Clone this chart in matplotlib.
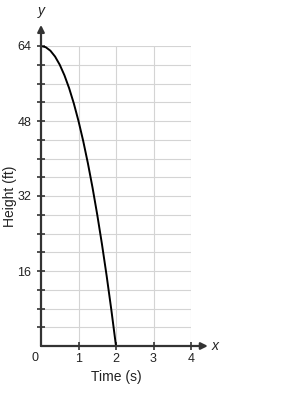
import matplotlib
matplotlib.use("Agg")
import matplotlib.pyplot as plt

plt.rcParams["font.family"] = ["Liberation Sans", "DejaVu Sans"]

# time (s) and height (ft)
time_s = [0, 0.125, 0.25, 0.375, 0.5, 0.625, 0.75, 0.875, 1.0,
          1.125, 1.25, 1.375, 1.5, 1.625, 1.75, 1.875, 2.0]
height_ft = [64, 63.75, 63, 61.75, 60, 57.75, 55, 51.75, 48,
             43.75, 39, 33.75, 28, 21.75, 15, 7.75, 0]

x_ticks = [1, 2, 3, 4]
y_ticks = [16, 32, 48, 64]
y_minor = [4, 8, 12, 20, 24, 28, 36, 40, 44, 52, 56, 60]

W, H = 306, 400
fig = plt.figure(figsize=(W / 100, H / 100), dpi=100)
ax = fig.add_axes([41 / W, (H - 346) / H, 150 / W, 300 / H])

ax.set_xlim(0, 4)
ax.set_ylim(0, 64)

# grid
for y in y_ticks + y_minor:
    ax.axhline(y, color="#d4d4d4", lw=0.8, zorder=0)
for x in x_ticks:
    ax.axvline(x, color="#d4d4d4", lw=0.8, zorder=0)

ax.plot(time_s, height_ft, color="black", lw=1.4, zorder=3)

for s in ["top", "right", "left", "bottom"]:
    ax.spines[s].set_visible(False)

# axes with arrows
ax.annotate("", xy=(4.45, 0), xytext=(0, 0),
            arrowprops=dict(arrowstyle="-|>", color="#333333", lw=1.6,
                            mutation_scale=10, shrinkA=0, shrinkB=0),
            annotation_clip=False, zorder=4)
ax.annotate("", xy=(0, 68.5), xytext=(0, 0),
            arrowprops=dict(arrowstyle="-|>", color="#333333", lw=1.6,
                            mutation_scale=10, shrinkA=0, shrinkB=0),
            annotation_clip=False, zorder=4)

ax.set_xticks(x_ticks)
ax.set_yticks(y_ticks)
ax.set_yticks(y_minor, minor=True)
ax.tick_params(axis="both", which="both", direction="inout", length=6,
               width=1.2, color="#333333", labelsize=9, labelcolor="#222222",
               pad=2)
ax.tick_params(axis="y", pad=4)

ax.text(-0.06, -1.3, "0", ha="right", va="top", fontsize=9, color="#222222")
ax.text(4.55, 0, "x", ha="left", va="center", fontsize=10, style="italic",
        color="#222222")
ax.text(0, 70, "y", ha="center", va="bottom", fontsize=10, style="italic",
        color="#222222")

ax.set_xlabel("Time (s)", fontsize=10, labelpad=4, color="#222222")
fig.text(10 / W, 1 - 196 / H, "Height (ft)", rotation=90, ha="center",
         va="center", fontsize=10, color="#222222")

fig.savefig("out.png", dpi=100)
